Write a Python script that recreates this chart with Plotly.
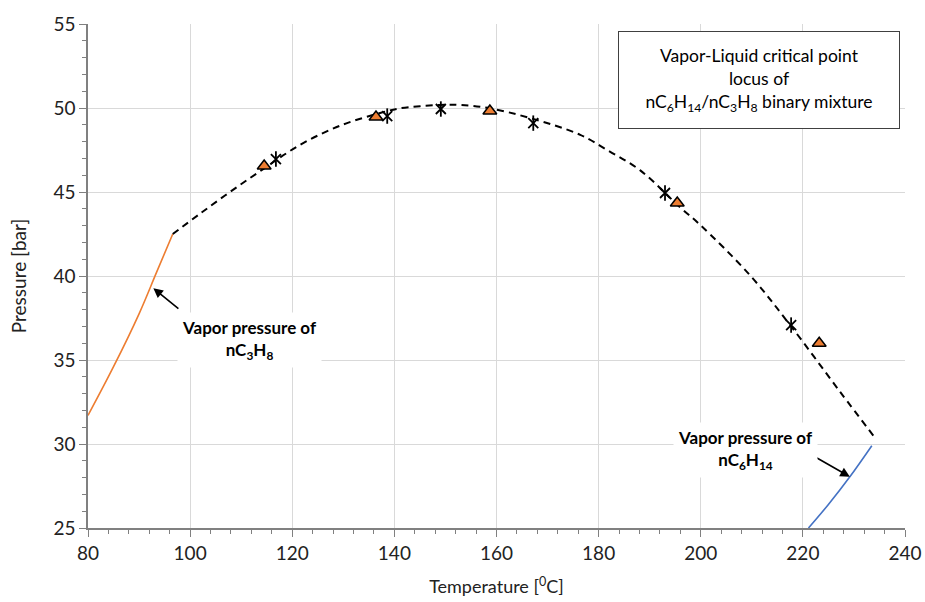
import plotly.graph_objects as go

# Critical locus (dashed)
locus_T = [96.6, 101.9, 107.8, 114.0, 121.5, 129.4, 137.2, 141.1, 148.9, 153.0,
           158.7, 166.6, 176.4, 182.2, 188.1, 195.9, 199.9, 209.6, 217.5, 227.3, 234.3]
locus_P = [42.5, 43.7, 45.0, 46.3, 47.8, 48.95, 49.7, 49.98, 50.18, 50.18,
           49.98, 49.4, 48.4, 47.4, 46.3, 44.1, 43.04, 40.06, 37.08, 33.1, 30.3]

# Propane vapor pressure
c3_T = [80.0, 85.0, 90.0, 93.4, 96.6]
c3_P = [31.7, 34.6, 37.75, 40.2, 42.5]

# Hexane vapor pressure
c6_T = [221.1, 225.0, 229.2, 233.5]
c6_P = [25.0, 26.4, 28.05, 29.9]

# Experimental points (triangles)
tri_T = [114.5, 136.4, 158.7, 195.4, 223.2]
tri_P = [46.55, 49.46, 49.82, 44.35, 36.0]

# Experimental points (stars)
star_T = [116.8, 138.6, 149.1, 167.2, 193.0, 217.7]
star_P = [46.96, 49.52, 49.94, 49.1, 44.94, 37.08]

FONT = "Lato"

fig = go.Figure()
fig.add_trace(go.Scatter(x=c3_T, y=c3_P, mode="lines", hoverinfo="skip",
                         line=dict(color="#ed7d31", width=1.6, shape="spline")))
fig.add_trace(go.Scatter(x=c6_T, y=c6_P, mode="lines", hoverinfo="skip",
                         line=dict(color="#4472c4", width=1.6, shape="spline")))
fig.add_trace(go.Scatter(x=locus_T, y=locus_P, mode="lines", hoverinfo="skip",
                         line=dict(color="black", width=2, dash="7px,5px", shape="spline")))
fig.add_trace(go.Scatter(x=tri_T, y=tri_P, mode="markers",
                         marker=dict(symbol="triangle-up", size=12, color="#ed7d31",
                                     line=dict(color="black", width=1.5))))
fig.add_trace(go.Scatter(x=star_T, y=star_P, mode="markers",
                         marker=dict(symbol="x-thin-open", size=10, color="black",
                                     line=dict(color="black", width=1.8))))
fig.add_trace(go.Scatter(x=star_T, y=star_P, mode="markers",
                         marker=dict(symbol="line-ns-open", size=11, color="black",
                                     line=dict(color="black", width=1.8))))

# Arrows
fig.add_annotation(x=92.8, y=39.27, ax=98.0, ay=37.98, axref="x", ayref="y",
                   showarrow=True, arrowhead=2, arrowsize=1.2, arrowwidth=1.6,
                   arrowcolor="black", text="")
fig.add_annotation(x=229.2, y=28.05, ax=221.7, ay=29.35, axref="x", ayref="y",
                   showarrow=True, arrowhead=2, arrowsize=1.2, arrowwidth=1.6,
                   arrowcolor="black", text="")

# Labels
fig.add_annotation(x=111.7, y=36.2, showarrow=False, bgcolor="white",
                   text="<b>Vapor pressure of<br>nC<sub>3</sub>H<sub>8</sub></b>",
                   font=dict(family=FONT, size=17, color="black"), borderpad=4)
fig.add_annotation(x=208.7, y=29.64, showarrow=False, bgcolor="white",
                   text="<b>Vapor pressure of<br>nC<sub>6</sub>H<sub>14</sub></b>",
                   font=dict(family=FONT, size=17, color="black"), borderpad=4)

fig.add_annotation(x=211.5, y=51.67, showarrow=False, bgcolor="white",
                   bordercolor="#404040", borderwidth=1, borderpad=4,
                   width=272, height=88,
                   text="Vapor-Liquid critical point<br>locus of<br>nC<sub>6</sub>H<sub>14</sub>/nC<sub>3</sub>H<sub>8</sub> binary mixture",
                   font=dict(family=FONT, size=17.5, color="black"))

axis_common = dict(showline=True, linecolor="#808080", linewidth=1.5,
                   showgrid=True, gridcolor="#d9d9d9", gridwidth=1,
                   ticks="outside", ticklen=7, tickcolor="#808080", tickwidth=1,
                   tickfont=dict(family=FONT, size=19, color="#222"),
                   zeroline=False, automargin=False)

fig.update_layout(
    width=925, height=602,
    margin=dict(l=88, r=20, t=24, b=74),
    paper_bgcolor="white", plot_bgcolor="white",
    showlegend=False,
    font=dict(family=FONT),
    xaxis=dict(range=[80, 240], dtick=20, tick0=80,
               minor=dict(dtick=4, ticks="outside", ticklen=4, tickcolor="#808080", showgrid=False),
               title=dict(text="Temperature [<sup>0</sup>C]", font=dict(family=FONT, size=18, color="#222"),
                          standoff=18),
               **axis_common),
    yaxis=dict(range=[25, 55], dtick=5, tick0=25,
               minor=dict(dtick=1, ticks="outside", ticklen=4, tickcolor="#808080", showgrid=False),
               title=dict(text="Pressure [bar]", font=dict(family=FONT, size=19, color="#222"),
                          standoff=22),
               **axis_common),
)

fig.write_html("out.html", config={"displayModeBar": False},
               post_script="document.body.style.margin='0';document.body.style.overflow='hidden';")
